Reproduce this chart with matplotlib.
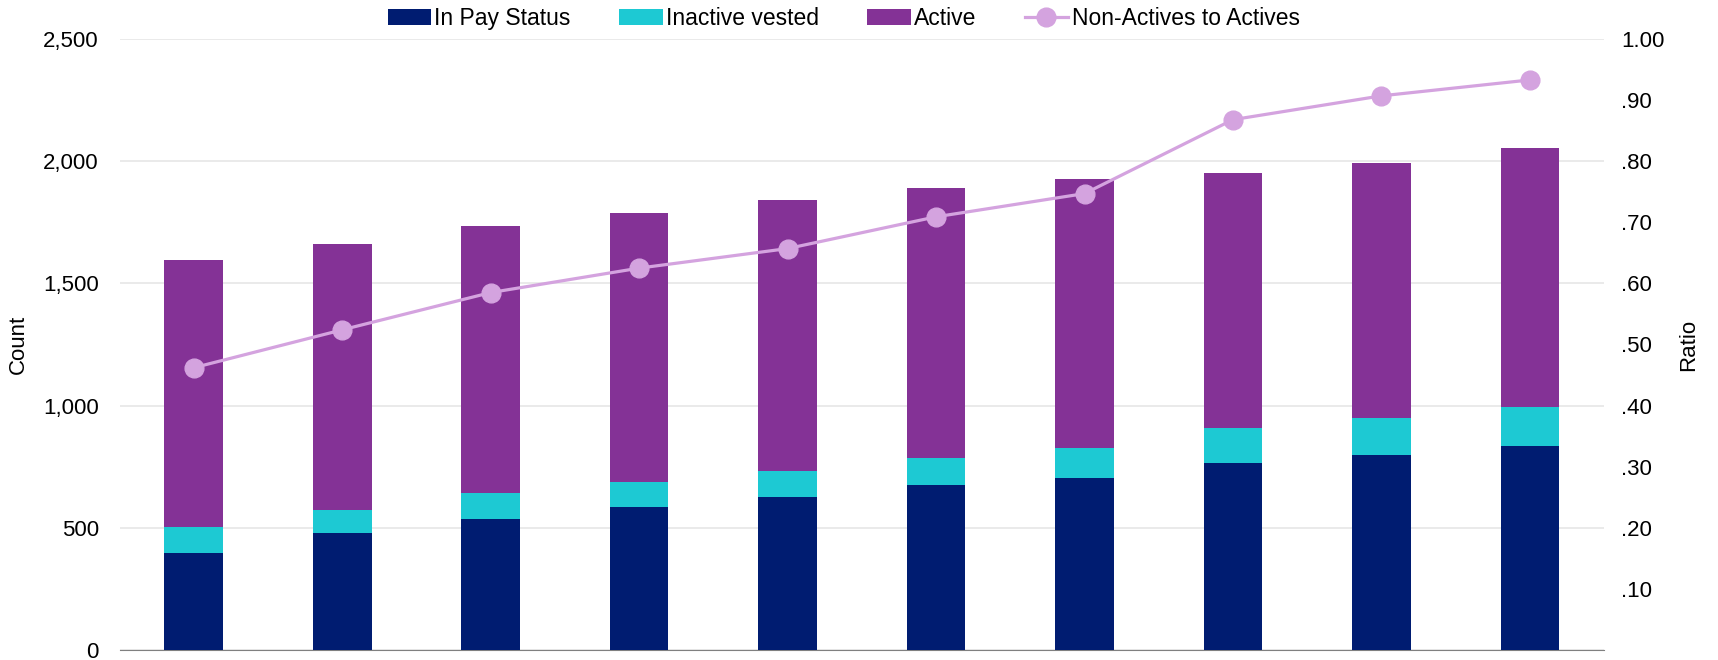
import numpy as np
import matplotlib
matplotlib.use('Agg')
import matplotlib.pyplot as plt
from matplotlib.ticker import FuncFormatter, MultipleLocator

plt.rcParams['font.family'] = ['Liberation Sans', 'DejaVu Sans']

categories = [str(i) for i in range(1, 11)]
in_pay = [396, 477, 536, 583, 625, 673, 702, 764, 797, 833]
inactive_vested = [109, 96, 107, 106, 106, 114, 125, 143, 152, 160]
active = [1090, 1088, 1092, 1100, 1110, 1103, 1101, 1044, 1044, 1063]
ratio = [0.462, 0.524, 0.585, 0.625, 0.657, 0.709, 0.747, 0.868, 0.907, 0.933]

c_pay = '#001C71'
c_inact = '#1DC9D3'
c_active = '#843296'
c_ratio = '#D4A3DF'

fig = plt.figure(figsize=(17.18, 6.6), dpi=100)
ax = fig.add_axes([0.0696, 0.0152, 0.8641, 0.9257])
ax2 = ax.twinx()

x = np.arange(len(categories))
w = 0.395
in_pay = np.array(in_pay)
inactive_vested = np.array(inactive_vested)
active = np.array(active)

b1 = ax.bar(x, in_pay, w, color=c_pay, label='In Pay Status', zorder=3)
b2 = ax.bar(x, inactive_vested, w, bottom=in_pay, color=c_inact, label='Inactive vested', zorder=3)
b3 = ax.bar(x, active, w, bottom=in_pay + inactive_vested, color=c_active, label='Active', zorder=3)

l1, = ax2.plot(x, ratio, color=c_ratio, lw=2.3, marker='o', markersize=13.5,
               label='Non-Actives to Actives', zorder=4)

ax.set_xlim(-0.5, len(categories) - 0.5)
ax.set_ylim(0, 2500)
ax.yaxis.set_major_locator(MultipleLocator(500))
ax.yaxis.set_major_formatter(FuncFormatter(lambda v, p: f'{int(v):,}'))
ax.grid(axis='y', color='#E6E6E6', lw=1.2, zorder=0)
ax.set_axisbelow(True)
ax.set_xticks([])
for s in ['top', 'left', 'right']:
    ax.spines[s].set_visible(False)
    ax2.spines[s].set_visible(False)
ax.spines['bottom'].set_color('#808080')
ax2.spines['bottom'].set_visible(False)
ax.tick_params(axis='y', length=0, labelsize=16, pad=15)

ax2.set_ylim(0, 1.0)
ax2.set_yticks(np.arange(0.1, 1.01, 0.1))
ax2.yaxis.set_major_formatter(FuncFormatter(lambda v, p: '1.00' if v > 0.995 else f'.{int(round(v*100)):02d}'))
ax2.tick_params(axis='y', length=0, labelsize=16, pad=12)

ax.set_ylabel('Count', fontsize=16, labelpad=10)
ax2.set_ylabel('Ratio', fontsize=16, labelpad=10)

fig.legend(handles=[b1, b2, b3, l1], loc='center', bbox_to_anchor=(0.491, 0.972),
           ncol=4, frameon=False, fontsize=16.5, handlelength=1.9, handletextpad=0.15,
           columnspacing=2.1)

fig.savefig('out.png', dpi=100)
